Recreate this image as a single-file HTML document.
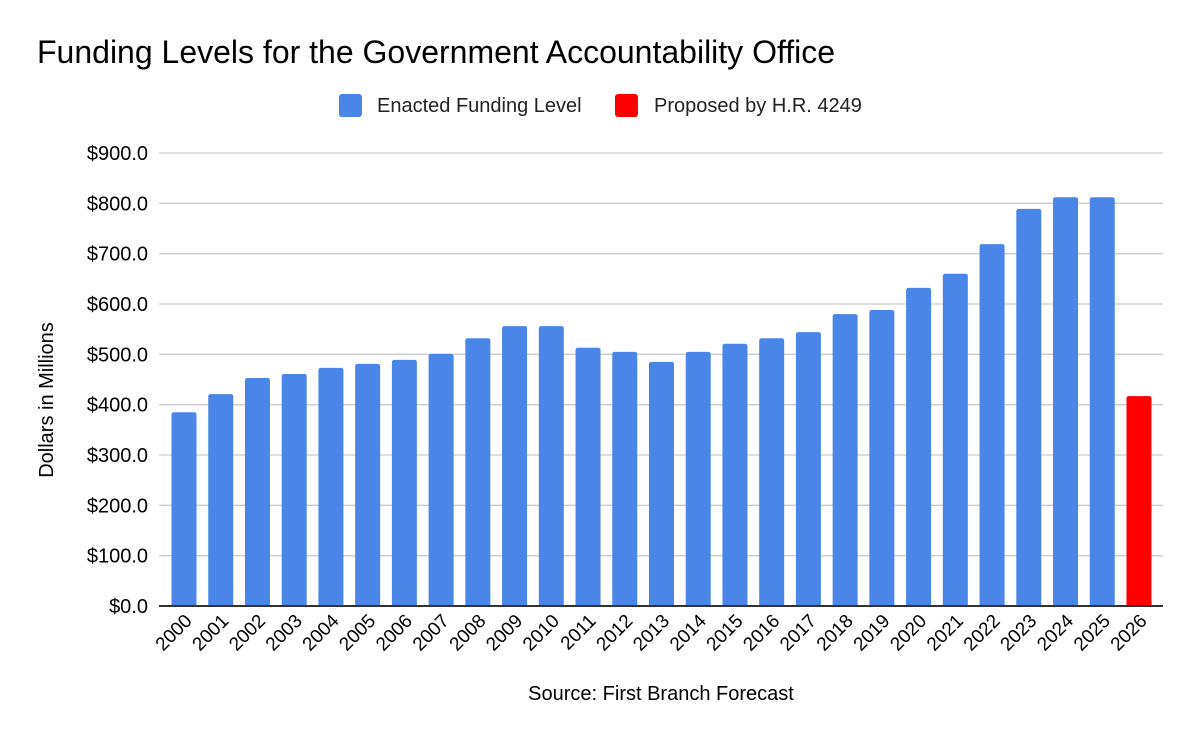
<!DOCTYPE html>
<html><head><meta charset="utf-8">
<style>
html,body{margin:0;padding:0;background:#fff;}
body{width:1200px;height:742px;overflow:hidden;font-family:"Liberation Sans",Arial,sans-serif;}
</style></head>
<body>
<svg id="chart" width="1200" height="742" xmlns="http://www.w3.org/2000/svg" font-family="Liberation Sans, Arial, sans-serif">
  <text x="37" y="63" font-size="32" fill="#000">Funding Levels for the Government Accountability Office</text>
  <g>
    <rect x="339" y="94" width="23" height="23" rx="3" fill="#4a86e8"/>
    <text x="377" y="112" font-size="20" fill="#222">Enacted Funding Level</text>
    <rect x="615" y="94" width="23" height="23" rx="3" fill="#ff0000"/>
    <text x="654" y="112" font-size="20" fill="#222">Proposed by H.R. 4249</text>
  </g>
  <text transform="translate(53,400) rotate(-90)" text-anchor="middle" font-size="20" fill="#000">Dollars in Millions</text>
  <text x="661" y="700" text-anchor="middle" font-size="20" fill="#000">Source: First Branch Forecast</text>
  <g id="grid"></g>
  <g id="bars"></g>
  <g id="xlabels"></g>
</svg>
<script>
const years = ["2000","2001","2002","2003","2004","2005","2006","2007","2008","2009","2010","2011","2012","2013","2014","2015","2016","2017","2018","2019","2020","2021","2022","2023","2024","2025","2026"];
const enacted = [385,421,453,461,473,481,489,501,532,556,556,513,505,485,505,521,532,544,580,588,632,660,719,789,812,812,null];
const proposed = [null,null,null,null,null,null,null,null,null,null,null,null,null,null,null,null,null,null,null,null,null,null,null,null,null,null,417];
const yTicks = [0,100,200,300,400,500,600,700,800,900];
const yTickLabels = ["$0.0","$100.0","$200.0","$300.0","$400.0","$500.0","$600.0","$700.0","$800.0","$900.0"];

const NS="http://www.w3.org/2000/svg";
const x0=159, x1=1163, y0=606, yTop=153, yMax=900;
const y = v => y0 - (v/yMax)*(y0-yTop);
const step = 36.73, firstC = 184;
const xc = i => firstC + i*step;
const bw = 25;
const grid=document.getElementById('grid');
yTicks.forEach((t,i)=>{
  const l=document.createElementNS(NS,'line');
  
  
  l.setAttribute('x1',x0);l.setAttribute('x2',x1);
  l.setAttribute('y1',y(t));l.setAttribute('y2',y(t));
  l.setAttribute('stroke',t===0?'#333':'#ccc');
  l.setAttribute('stroke-width',t===0?2:1.3);
  grid.appendChild(l);
  const tx=document.createElementNS(NS,'text');
  
  
  tx.setAttribute('x',148);tx.setAttribute('y',y(t)+7);
  tx.setAttribute('text-anchor','end');tx.setAttribute('font-size','20');tx.setAttribute('fill','#000');
  tx.textContent=yTickLabels[i];
  grid.appendChild(tx);
});
const bars=document.getElementById('bars');
function bar(i,v,color){
  const top=y(v), h=y0-top, r=2.5, xl=xc(i)-bw/2;
  const p=document.createElementNS(NS,'path');
  
  
  p.setAttribute('d',`M${xl},${y0}V${top+r}Q${xl},${top} ${xl+r},${top}H${xl+bw-r}Q${xl+bw},${top} ${xl+bw},${top+r}V${y0}Z`);
  p.setAttribute('fill',color);
  bars.appendChild(p);
}
enacted.forEach((v,i)=>{ if(v!=null) bar(i,v,'#4a86e8'); });
proposed.forEach((v,i)=>{ if(v!=null) bar(i,v,'#ff0000'); });
const xl=document.getElementById('xlabels');
years.forEach((yr,i)=>{
  const t=document.createElementNS(NS,'text');
  
  
  const cx=xc(i)+9, cy=622;
  t.setAttribute('transform',`translate(${cx},${cy}) rotate(-45)`);
  t.setAttribute('text-anchor','end');t.setAttribute('font-size','19');t.setAttribute('fill','#000');
  t.textContent=yr;
  xl.appendChild(t);
});
grid.parentNode.appendChild(grid.querySelector('line'));
</script>
</body></html>
